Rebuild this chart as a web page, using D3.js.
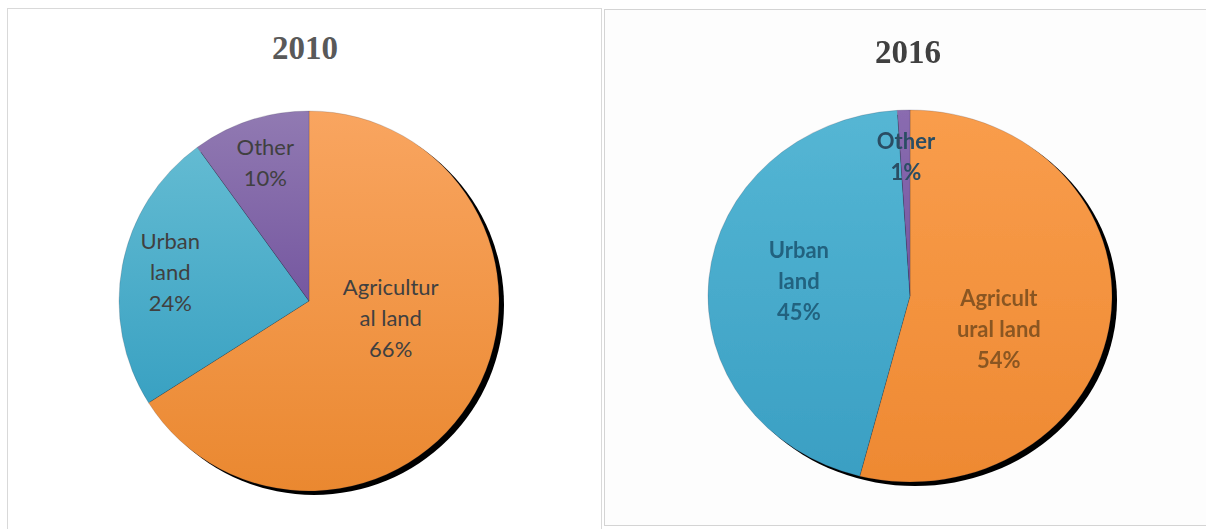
<!DOCTYPE html>
<html>
<head>
<meta charset="utf-8">
<script src="https://cdn.jsdelivr.net/npm/d3@7"></script>
<style>
  html, body { margin: 0; padding: 0; background: #ffffff; }
  svg { display: block; }
</style>
</head>
<body>
<svg id="chart" width="1206" height="529"></svg>
<script>
// ---------- data ----------
const years = ["2010", "2016"];
const categories = ["Agricultural land", "Urban land", "Other"];
const values2010 = [66, 24, 10];
const values2016 = [54, 45, 1];
const labelLines2010 = [["Agricultur", "al land", "66%"], ["Urban", "land", "24%"], ["Other", "10%"]];
const labelLines2016 = [["Agricult", "ural land", "54%"], ["Urban", "land", "45%"], ["Other", "1%"]];

// ---------- layout / style ----------
const svg = d3.select("#chart");
const defs = svg.append("defs");

const panels = [
  {
    year: years[0], values: values2010, lines: labelLines2010,
    cx: 309, cy: 301, rx: 190, ry: 190,
    titleX: 305, titleY: 59, titleColor: "#595959",
    labelPos: [[0.43, 0.09], [-0.73, -0.15], [-0.23, -0.73]],
    labelColors: ["#404040", "#404040", "#404040"],
    fontWeight: 400, fontSize: 22,
    colors: [["#F9A560", "#EA8830"], ["#63BBD2", "#39A1C2"], ["#917AB2", "#7557A0"]],
    blur: 0
  },
  {
    year: years[1], values: values2016, lines: labelLines2016,
    cx: 910, cy: 296, rx: 202, ry: 186,
    titleX: 908, titleY: 63, titleColor: "#3f3f3f",
    labelPos: [[0.44, 0.18], [-0.55, -0.08], [-0.02, -0.75]],
    labelColors: ["#8a5622", "#22627f", "#2a4d63"],
    fontWeight: 700, fontSize: 22,
    colors: [["#F99D4C", "#EE8932"], ["#55B6D4", "#3A9FC3"], ["#8A6CB0", "#7455A0"]],
    blur: 0.7
  }
];

// panel frames
svg.append("rect").attr("x", 7.5).attr("y", 8.5).attr("width", 594).attr("height", 540)
  .attr("fill", "#ffffff").attr("stroke", "#d9d9d9");
svg.append("rect").attr("x", 604.5).attr("y", 9.5).attr("width", 620).attr("height", 516)
  .attr("fill", "#fdfdfd").attr("stroke", "#d4d4d4");

// filters
const f = defs.append("filter").attr("id", "soft").attr("x", "-10%").attr("y", "-10%").attr("width", "120%").attr("height", "120%");
f.append("feGaussianBlur").attr("stdDeviation", 0.7);
const sh = defs.append("filter").attr("id", "shblur").attr("x", "-10%").attr("y", "-10%").attr("width", "120%").attr("height", "120%");
sh.append("feGaussianBlur").attr("stdDeviation", 0.7);

panels.forEach((p, pi) => {
  // gradients
  p.colors.forEach((c, i) => {
    const g = defs.append("linearGradient").attr("id", `g${pi}_${i}`)
      .attr("x1", 0).attr("y1", 0).attr("x2", 0).attr("y2", 1);
    g.append("stop").attr("offset", "0%").attr("stop-color", c[0]);
    g.append("stop").attr("offset", "100%").attr("stop-color", c[1]);
  });

  const root = svg.append("g");
  if (p.blur) root.attr("filter", "url(#soft)");

  // title
  root.append("text")
    .attr("x", p.titleX).attr("y", p.titleY)
    .attr("text-anchor", "middle")
    .attr("font-family", "'Liberation Serif', 'Times New Roman', serif")
    .attr("font-weight", 700).attr("font-size", 33)
    .attr("fill", p.titleColor)
    .text(p.year);

  const sx = p.rx / p.ry;
  const r = p.ry;
  const pieG = root.append("g")
    .attr("transform", `translate(${p.cx},${p.cy}) scale(${sx},1)`);

  // shadow
  pieG.append("circle")
    .attr("cx", 5 / sx).attr("cy", 4).attr("r", r)
    .attr("fill", "#000")
    .attr("filter", "url(#shblur)");

  const pie = d3.pie().sort(null).value(d => d)(p.values);
  const arc = d3.arc().innerRadius(0).outerRadius(r);

  pieG.selectAll("path.slice").data(pie).join("path")
    .attr("class", "slice")
    .attr("d", arc)
    .attr("fill", (d, i) => `url(#g${pi}_${i})`)
    .attr("stroke", "rgba(40,40,60,0.35)")
    .attr("stroke-width", 0.5);

  // labels
  const lineH = 31;
  pie.forEach((d, i) => {
    const lx = p.cx + p.labelPos[i][0] * p.rx;
    const ly = p.cy + p.labelPos[i][1] * p.ry;
    const lines = p.lines[i];
    const t = root.append("text")
      .attr("text-anchor", "middle")
      .attr("font-family", "Lato, 'Open Sans', sans-serif")
      .attr("font-size", p.fontSize)
      .attr("font-weight", p.fontWeight)
      .attr("fill", p.labelColors[i]);
    lines.forEach((ln, k) => {
      t.append("tspan")
        .attr("x", lx)
        .attr("y", ly + (k - (lines.length - 1) / 2) * lineH)
        .attr("dy", "0.35em")
        .text(ln);
    });
  });
});
</script>
</body>
</html>
